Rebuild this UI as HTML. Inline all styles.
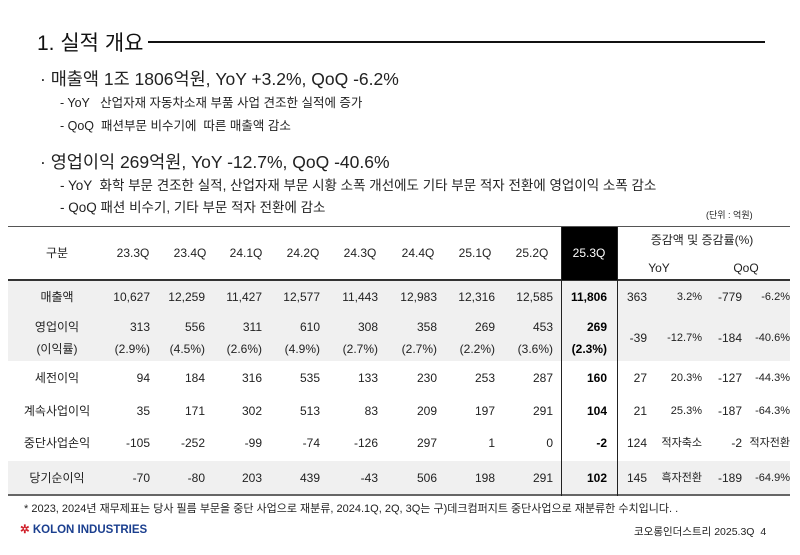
<!DOCTYPE html>
<html><head><meta charset="utf-8"><style>
body{margin:0;width:800px;height:555px;background:#fff;position:relative;overflow:hidden;font-family:"Liberation Sans","Noto Sans CJK KR",sans-serif;color:#222}
.a,.r,.c{position:absolute;white-space:nowrap;line-height:14px}
.r{text-align:right}
.c{text-align:center;transform:translateX(-50%)}
.t div{font-size:12px}
.b{font-weight:bold;color:#000}
</style></head><body>
<div class="a" style="left:37px;top:32px;font-size:21px;line-height:24px;color:#111">1. 실적 개요</div>
<div class="a" style="left:148px;top:41px;width:617px;height:2px;background:#111"></div>
<div class="a" style="left:40px;top:69px;font-size:17.5px;line-height:20px">· 매출액 1조 1806억원, YoY +3.2%, QoQ -6.2%</div>
<div class="a" style="left:60px;top:96px;font-size:12.5px">- YoY &nbsp;&nbsp;산업자재 자동차소재 부품 사업 견조한 실적에 증가</div>
<div class="a" style="left:60px;top:119px;font-size:12.5px">- QoQ &nbsp;패션부문 비수기에 &nbsp;따른 매출액 감소</div>
<div class="a" style="left:40px;top:152px;font-size:17.5px;line-height:20px">· 영업이익 269억원, YoY -12.7%, QoQ -40.6%</div>
<div class="a" style="left:60px;top:179px;font-size:13.5px">- YoY &nbsp;화학 부문 견조한 실적, 산업자재 부문 시황 소폭 개선에도 기타 부문 적자 전환에 영업이익 소폭 감소</div>
<div class="a" style="left:60px;top:201px;font-size:13.5px">- QoQ 패션 비수기, 기타 부문 적자 전환에 감소</div>
<div class="a" style="left:706px;top:208px;font-size:9px">(단위 : 억원)</div>

<div class="a" style="left:8px;top:226px;width:782px;height:1px;background:#555"></div>
<div class="a" style="left:8px;top:279px;width:782px;height:2px;background:#333"></div>
<div class="a" style="left:8px;top:281px;width:782px;height:80px;background:#f0f0f0"></div>
<div class="a" style="left:8px;top:461px;width:782px;height:33px;background:#f0f0f0"></div>
<div class="a" style="left:8px;top:494px;width:782px;height:2px;background:#666"></div>
<div class="a" style="left:561px;top:227px;width:56px;height:53px;background:#000"></div>
<div class="a" style="left:561px;top:227px;width:1px;height:269px;background:#222"></div>
<div class="a" style="left:617px;top:227px;width:1px;height:269px;background:#222"></div>

<div class="t">
<div class="c" style="left:57px;top:246px">구분</div>
<div class="c" style="left:133px;top:246px">23.3Q</div>
<div class="c" style="left:190px;top:246px">23.4Q</div>
<div class="c" style="left:246px;top:246px">24.1Q</div>
<div class="c" style="left:303px;top:246px">24.2Q</div>
<div class="c" style="left:360px;top:246px">24.3Q</div>
<div class="c" style="left:418px;top:246px">24.4Q</div>
<div class="c" style="left:475px;top:246px">25.1Q</div>
<div class="c" style="left:532px;top:246px">25.2Q</div>
<div class="c" style="left:589px;top:246px;color:#fff">25.3Q</div>
<div class="c" style="left:702px;top:233px">증감액 및 증감률(%)</div>
<div class="c" style="left:659px;top:261px">YoY</div>
<div class="c" style="left:746px;top:261px">QoQ</div>
</div>

<div class="t" id="rows"></div>
<script>
var ends=[150,205,262,320,378,437,495,553];
var rows=[
["매출액",290,["10,627","12,259","11,427","12,577","11,443","12,983","12,316","12,585"],"11,806",["363","3.2%","-779","-6.2%"],290],
["영업이익",320,["313","556","311","610","308","358","269","453"],"269",["-39","-12.7%","-184","-40.6%"],331],
["",342,["(2.9%)","(4.5%)","(2.6%)","(4.9%)","(2.7%)","(2.7%)","(2.2%)","(3.6%)"],"(2.3%)",null,0],
["세전이익",371,["94","184","316","535","133","230","253","287"],"160",["27","20.3%","-127","-44.3%"],371],
["계속사업이익",404,["35","171","302","513","83","209","197","291"],"104",["21","25.3%","-187","-64.3%"],404],
["중단사업손익",436,["-105","-252","-99","-74","-126","297","1","0"],"-2",["124","적자축소","-2","적자전환"],436],
["당기순이익",471,["-70","-80","203","439","-43","506","198","291"],"102",["145","흑자전환","-189","-64.9%"],471]];
var h="";
rows.forEach(function(r){
 if(r[0])h+='<div class="c" style="left:57px;top:'+r[1]+'px">'+r[0]+'</div>';
 r[2].forEach(function(v,i){h+='<div class="r" style="right:'+(800-ends[i])+'px;top:'+r[1]+'px">'+v+'</div>';});
 h+='<div class="r b" style="right:193px;top:'+r[1]+'px">'+r[3]+'</div>';
 if(r[4]){var e=[647,702,742,790];r[4].forEach(function(v,i){h+='<div class="r" style="right:'+(800-e[i])+'px;top:'+r[5]+'px;'+(i%2?'font-size:11px':'')+'">'+v+'</div>';});}
});
h+='<div class="c" style="left:57px;top:342px">(이익률)</div>';
document.getElementById("rows").innerHTML=h;
</script>

<div class="a" style="left:24px;top:502px;font-size:11px">* 2023, 2024년 재무제표는 당사 필름 부문을 중단 사업으로 재분류, 2024.1Q, 2Q, 3Q는 구)데크컴퍼지트 중단사업으로 재분류한 수치입니다. .</div>
<div class="a" style="left:20px;top:523px;font-size:11.5px;font-weight:bold;color:#1b3f8f"><span style="color:#d0202a">✲</span> KOLON INDUSTRIES</div>
<div class="a" style="left:634px;top:525px;font-size:10.5px">코오롱인더스트리 2025.3Q &nbsp;4</div>
</body></html>
